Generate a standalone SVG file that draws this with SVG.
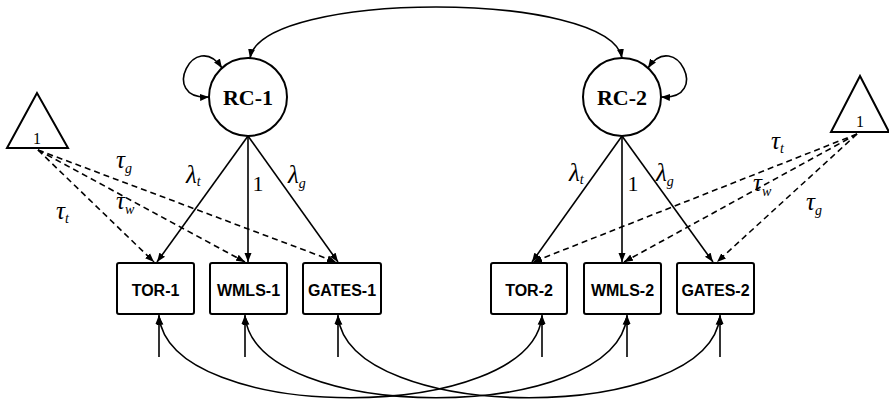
<svg xmlns="http://www.w3.org/2000/svg" width="889" height="405" viewBox="0 0 889 405">
<defs>
<marker id="arr" markerUnits="userSpaceOnUse" markerWidth="10" markerHeight="8" refX="9" refY="3.5" orient="auto-start-reverse" viewBox="0 0 10 7">
<path d="M0,0 L9,3.5 L0,7 z" fill="#000"/>
</marker>
</defs>
<style>
.bg{fill:#fff}
.node{fill:#fff;stroke:#000;stroke-width:2}
.lat{font-family:"Liberation Serif",serif;font-weight:bold;font-size:22px;text-anchor:middle}
.obs{font-family:"Liberation Sans",sans-serif;font-weight:bold;font-size:16px;text-anchor:middle}
.one{font-family:"Liberation Serif",serif;font-size:16px;text-anchor:middle;fill:#000}
.c{fill:none;stroke:#000;stroke-width:1.6}
.a{marker-end:url(#arr)}
.b{marker-start:url(#arr);marker-end:url(#arr)}
.d{stroke-dasharray:6 4}
.lbl{font-family:"Liberation Serif",serif;font-style:italic;font-size:25px}
.num{font-family:"Liberation Serif",serif;font-size:22px;text-anchor:middle}
.sub{font-size:14px}
</style>
<rect class="bg" x="0" y="0" width="889" height="405"/>

<g id="connectors">
<path class="c b" d="M250,58 C262,-10 610,-10 622,58"/>
<path class="c b" d="M222,68 C195,28 158,100 209,97"/>
<path class="c b" d="M648,68 C675,28 712,100 661,97"/>
<path class="c a" d="M248,136 L157,262"/>
<path class="c a" d="M248,136 L248,262"/>
<path class="c a" d="M248,136 L338,262"/>
<path class="c a" d="M622,136 L532,262"/>
<path class="c a" d="M622,136 L622,262"/>
<path class="c a" d="M622,136 L713,262"/>
<path class="c a d" d="M38,150 L154,262"/>
<path class="c a d" d="M38,150 L245,262"/>
<path class="c a d" d="M38,150 L336,262"/>
<path class="c a d" d="M857,134 L533,262"/>
<path class="c a d" d="M857,134 L624,262"/>
<path class="c a d" d="M857,134 L717,262"/>
<path class="c a" d="M159,357 L159,315"/>
<path class="c a" d="M245,357 L245,315"/>
<path class="c a" d="M338,357 L338,315"/>
<path class="c a" d="M542,357 L542,315"/>
<path class="c a" d="M627,357 L627,315"/>
<path class="c a" d="M720,357 L720,315"/>
<path class="c b" d="M159,316 C170,425 531,425 542,316"/>
<path class="c b" d="M245,316 C256,425 616,425 627,316"/>
<path class="c b" d="M338,316 C349,425 709,425 720,316"/>
</g>

<g id="labels">
<text class="lbl" x="186" y="183">λ<tspan class="sub" dy="3">t</tspan></text>
<text class="num" x="258" y="191">1</text>
<text class="lbl" x="288" y="183">λ<tspan class="sub" dy="5">g</tspan></text>
<text class="lbl" x="569" y="181">λ<tspan class="sub" dy="3">t</tspan></text>
<text class="num" x="633" y="191">1</text>
<text class="lbl" x="656" y="181">λ<tspan class="sub" dy="5">g</tspan></text>
<text class="lbl" x="116" y="168">τ<tspan class="sub" dy="5">g</tspan></text>
<text class="lbl" x="116" y="209">τ<tspan class="sub" dy="5">w</tspan></text>
<text class="lbl" x="56" y="219">τ<tspan class="sub" dy="4">t</tspan></text>
<text class="lbl" x="771" y="149">τ<tspan class="sub" dy="4">t</tspan></text>
<text class="lbl" x="753" y="191">τ<tspan class="sub" dy="5">w</tspan></text>
<text class="lbl" x="806" y="210">τ<tspan class="sub" dy="5">g</tspan></text>
</g>

<g id="RC-1"><circle class="node" cx="248" cy="97" r="39"/><text class="lat" x="248" y="105">RC-1</text></g>
<g id="RC-2"><circle class="node" cx="622" cy="97" r="39"/><text class="lat" x="622" y="105">RC-2</text></g>

<g id="const-left"><polygon class="node" points="37,93 7,148 68,148"/><text class="one" x="37" y="144">1</text></g>
<g id="const-right"><polygon class="node" points="860,76 831,132 889,132"/><text class="one" x="860" y="127">1</text></g>

<g id="TOR-1"><rect class="node" x="117" y="263" width="77" height="51" rx="2"/><text class="obs" x="155.5" y="296">TOR-1</text></g>
<g id="WMLS-1"><rect class="node" x="210" y="263" width="77" height="51" rx="2"/><text class="obs" x="248.5" y="296">WMLS-1</text></g>
<g id="GATES-1"><rect class="node" x="303" y="263" width="78" height="51" rx="2"/><text class="obs" x="342" y="296">GATES-1</text></g>
<g id="TOR-2"><rect class="node" x="491" y="263" width="76" height="51" rx="2"/><text class="obs" x="529" y="296">TOR-2</text></g>
<g id="WMLS-2"><rect class="node" x="584" y="263" width="77" height="51" rx="2"/><text class="obs" x="622.5" y="296">WMLS-2</text></g>
<g id="GATES-2"><rect class="node" x="677" y="263" width="77" height="51" rx="2"/><text class="obs" x="715.5" y="296">GATES-2</text></g>
</svg>
